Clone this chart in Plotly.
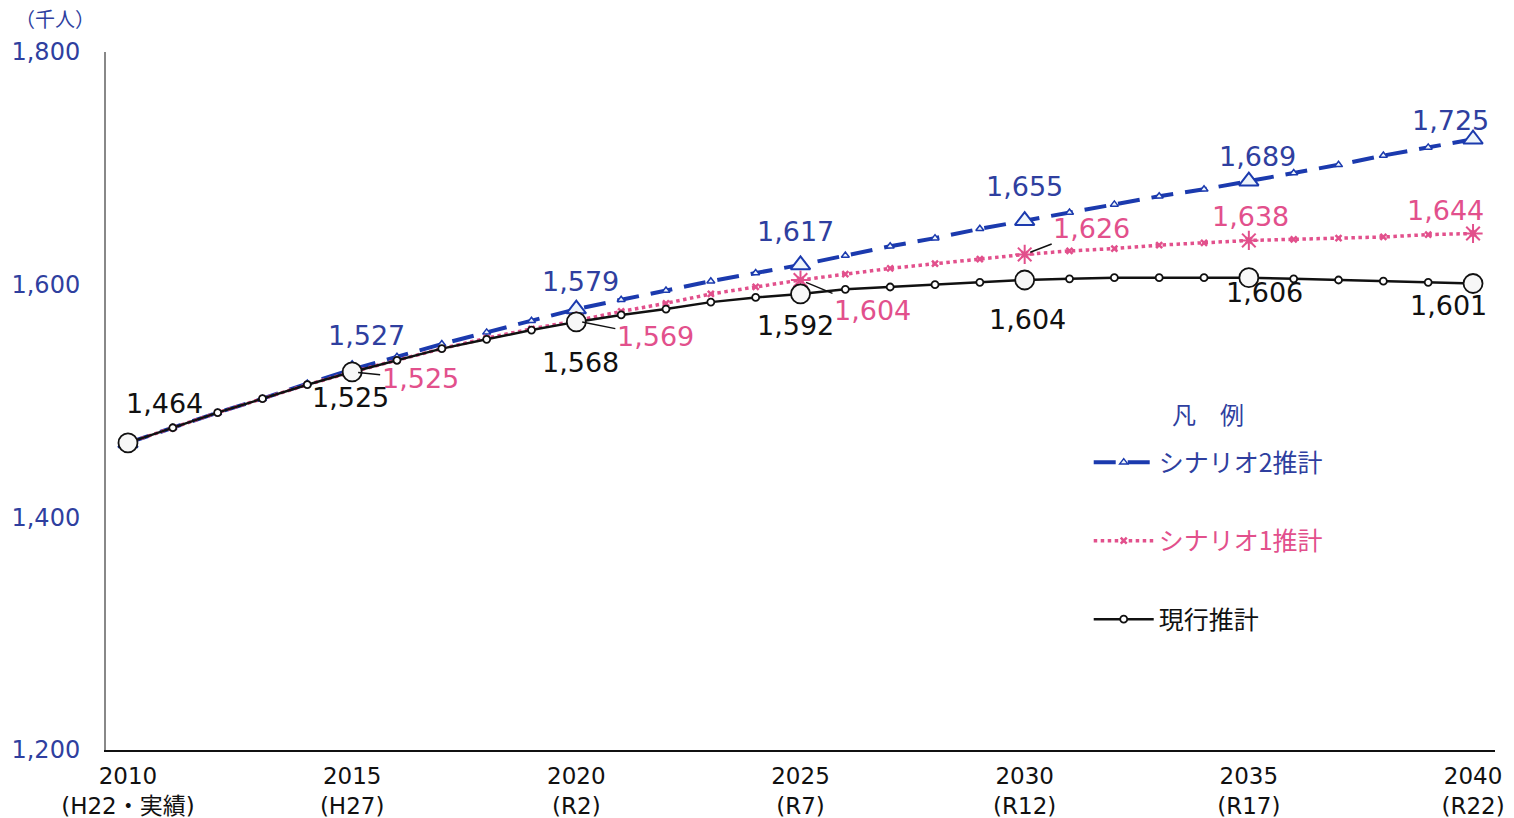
import plotly.graph_objects as go

# Annual population estimates (thousand people), 2010–2040
years = list(range(2010, 2041))

current = [1464, 1477, 1490, 1502, 1514, 1525, 1535, 1545, 1553, 1561,
           1568, 1574, 1579, 1585, 1589, 1592, 1596, 1598, 1600, 1602,
           1604, 1605, 1606, 1606, 1606, 1606, 1605, 1604, 1603, 1602, 1601]

scenario1 = [1464, 1477, 1490, 1502, 1514, 1525, 1535, 1545, 1554, 1562,
             1569, 1577, 1584, 1592, 1598, 1604, 1609, 1614, 1618, 1622,
             1626, 1629, 1631, 1634, 1636, 1638, 1639, 1640, 1641, 1643, 1644]

scenario2 = [1464, 1477, 1490, 1502, 1515, 1527, 1538, 1549, 1559, 1569,
             1579, 1587, 1595, 1603, 1610, 1617, 1625, 1633, 1640, 1648,
             1655, 1662, 1669, 1676, 1682, 1689, 1696, 1703, 1711, 1718, 1725]

tick_years = [2010, 2015, 2020, 2025, 2030, 2035, 2040]
tick_text = ["2010<br>(H22・実績)", "2015<br>(H27)", "2020<br>(R2)", "2025<br>(R7)",
             "2030<br>(R12)", "2035<br>(R17)", "2040<br>(R22)"]

BLUE_LINE = "#1B3AAE"
BLUE_TEXT = "#2F3F9F"
PINK = "#E2508C"
BLACK = "#111111"
FONT = "DejaVu Sans, Noto Sans CJK JP"
CJK = "Noto Sans CJK JP"

# five-year milestone points
mile_idx = [years.index(y) for y in tick_years]

fig = go.Figure()

# Scenario 2 (dashed blue with triangles)
fig.add_trace(go.Scatter(
    x=years, y=scenario2, mode="lines+markers", legendgroup="g2",
    name=f"<span style='color:{BLUE_TEXT}'>シナリオ2推計</span>",
    line=dict(color=BLUE_LINE, width=4, dash="22px,12px"),
    marker=dict(symbol="triangle-up", size=7, color="#eef5fb",
                line=dict(color=BLUE_LINE, width=1.5)),
))
fig.add_trace(go.Scatter(
    x=[years[i] for i in mile_idx], y=[scenario2[i] for i in mile_idx],
    mode="markers", showlegend=False, hoverinfo="skip",
    marker=dict(symbol="triangle-up", size=17, color="#eef5fb",
                line=dict(color=BLUE_LINE, width=2)),
))

# Scenario 1 (dotted pink with asterisks)
fig.add_trace(go.Scatter(
    x=years, y=scenario1, mode="lines+markers", legendgroup="g1",
    name=f"<span style='color:{PINK}'>シナリオ1推計</span>",
    line=dict(color=PINK, width=3.5, dash="dot"),
    marker=dict(symbol="x-thin-open", size=6, color=PINK,
                line=dict(color=PINK, width=2.5)),
))
fig.add_trace(go.Scatter(
    x=[years[i] for i in mile_idx], y=[scenario1[i] for i in mile_idx],
    mode="markers", showlegend=False, hoverinfo="skip",
    marker=dict(symbol="asterisk-open", size=16, color=PINK,
                line=dict(color=PINK, width=2)),
))

# Current projection (solid black with circles)
fig.add_trace(go.Scatter(
    x=years, y=current, mode="lines+markers", legendgroup="g0",
    name=f"<span style='color:{BLACK}'>現行推計</span>",
    line=dict(color=BLACK, width=2.5),
    marker=dict(symbol="circle", size=7, color="white",
                line=dict(color=BLACK, width=1.8)),
))
fig.add_trace(go.Scatter(
    x=[years[i] for i in mile_idx], y=[current[i] for i in mile_idx],
    mode="markers", showlegend=False, hoverinfo="skip",
    marker=dict(symbol="circle", size=19, color="#f7f7f7",
                line=dict(color=BLACK, width=1.8)),
))

# Value labels at milestones: (series, year, dx, dy, color, leader)
label_specs = [
    (current, 2010, 37, -39, BLACK, False),
    (current, 2015, -2, 26, BLACK, False),
    (scenario2, 2015, 14, -34, BLUE_TEXT, False),
    (scenario1, 2015, 68, 7, PINK, True),
    (scenario2, 2020, 4, -28, BLUE_TEXT, False),
    (scenario1, 2020, 79, 16, PINK, True),
    (current, 2020, 4, 41, BLACK, False),
    (scenario2, 2025, -5, -33, BLUE_TEXT, False),
    (current, 2025, -5, 32, BLACK, False),
    (scenario1, 2025, 72, 30, PINK, True),
    (scenario2, 2030, 0, -34, BLUE_TEXT, False),
    (scenario1, 2030, 67, -26, PINK, True),
    (current, 2030, 3, 39, BLACK, False),
    (scenario2, 2035, 9, -25, BLUE_TEXT, False),
    (scenario1, 2035, 2, -24, PINK, False),
    (current, 2035, 16, 15, BLACK, False),
    (scenario2, 2040, -23, -19, BLUE_TEXT, False),
    (scenario1, 2040, -28, -23, PINK, False),
    (current, 2040, -25, 22, BLACK, False),
]
for series, yr, dx, dy, color, leader in label_specs:
    v = series[years.index(yr)]
    common = dict(x=yr, y=v, xref="x", yref="y", text=f"{v:,}",
                  font=dict(family=FONT, size=27, color=color))
    if leader:
        fig.add_annotation(**common, showarrow=True, ax=dx, ay=dy,
                           arrowhead=0, arrowwidth=1.5, arrowcolor=BLACK,
                           standoff=6)
    else:
        fig.add_annotation(**common, showarrow=False, xshift=dx, yshift=-dy)

# unit label
fig.add_annotation(x=-0.0367, y=1.0476, xref="paper", yref="paper",
                   xanchor="center", yanchor="middle",
                   text="（千人）", showarrow=False,
                   font=dict(family=CJK, size=20, color=BLUE_TEXT))

# legend heading
fig.add_annotation(x=0.7934, y=0.4814, xref="paper", yref="paper",
                   xanchor="center", yanchor="middle",
                   text="凡　例", showarrow=False,
                   font=dict(family=CJK, size=24, color=BLUE_TEXT))

fig.update_layout(
    width=1514, height=818,
    margin=dict(l=106, r=19, t=52, b=68, autoexpand=False),
    paper_bgcolor="white", plot_bgcolor="white",
    font=dict(family=FONT, color=BLACK),
    legend=dict(
        x=0.7075, y=0.445, xanchor="left", yanchor="top",
        font=dict(family=CJK, size=25),
        tracegroupgap=43, itemwidth=60,
        bgcolor="rgba(0,0,0,0)",
    ),
    xaxis=dict(
        range=[2009.51, 2040.49], tickvals=tick_years, ticktext=tick_text,
        showgrid=False, zeroline=False, showline=True, linecolor=BLACK,
        linewidth=2, ticks="", automargin=False, ticklabelstandoff=4,
        tickfont=dict(family=FONT, size=23, color=BLACK),
    ),
    yaxis=dict(
        range=[1200, 1800], tickvals=[1200, 1400, 1600, 1800],
        tickformat=",d", showgrid=False, zeroline=False, showline=True,
        linecolor="#888888", linewidth=2, ticks="", ticklabelstandoff=19,
        automargin=False,
        tickfont=dict(family=FONT, size=24, color=BLUE_TEXT),
    ),
)

fig.write_html("out.html")
